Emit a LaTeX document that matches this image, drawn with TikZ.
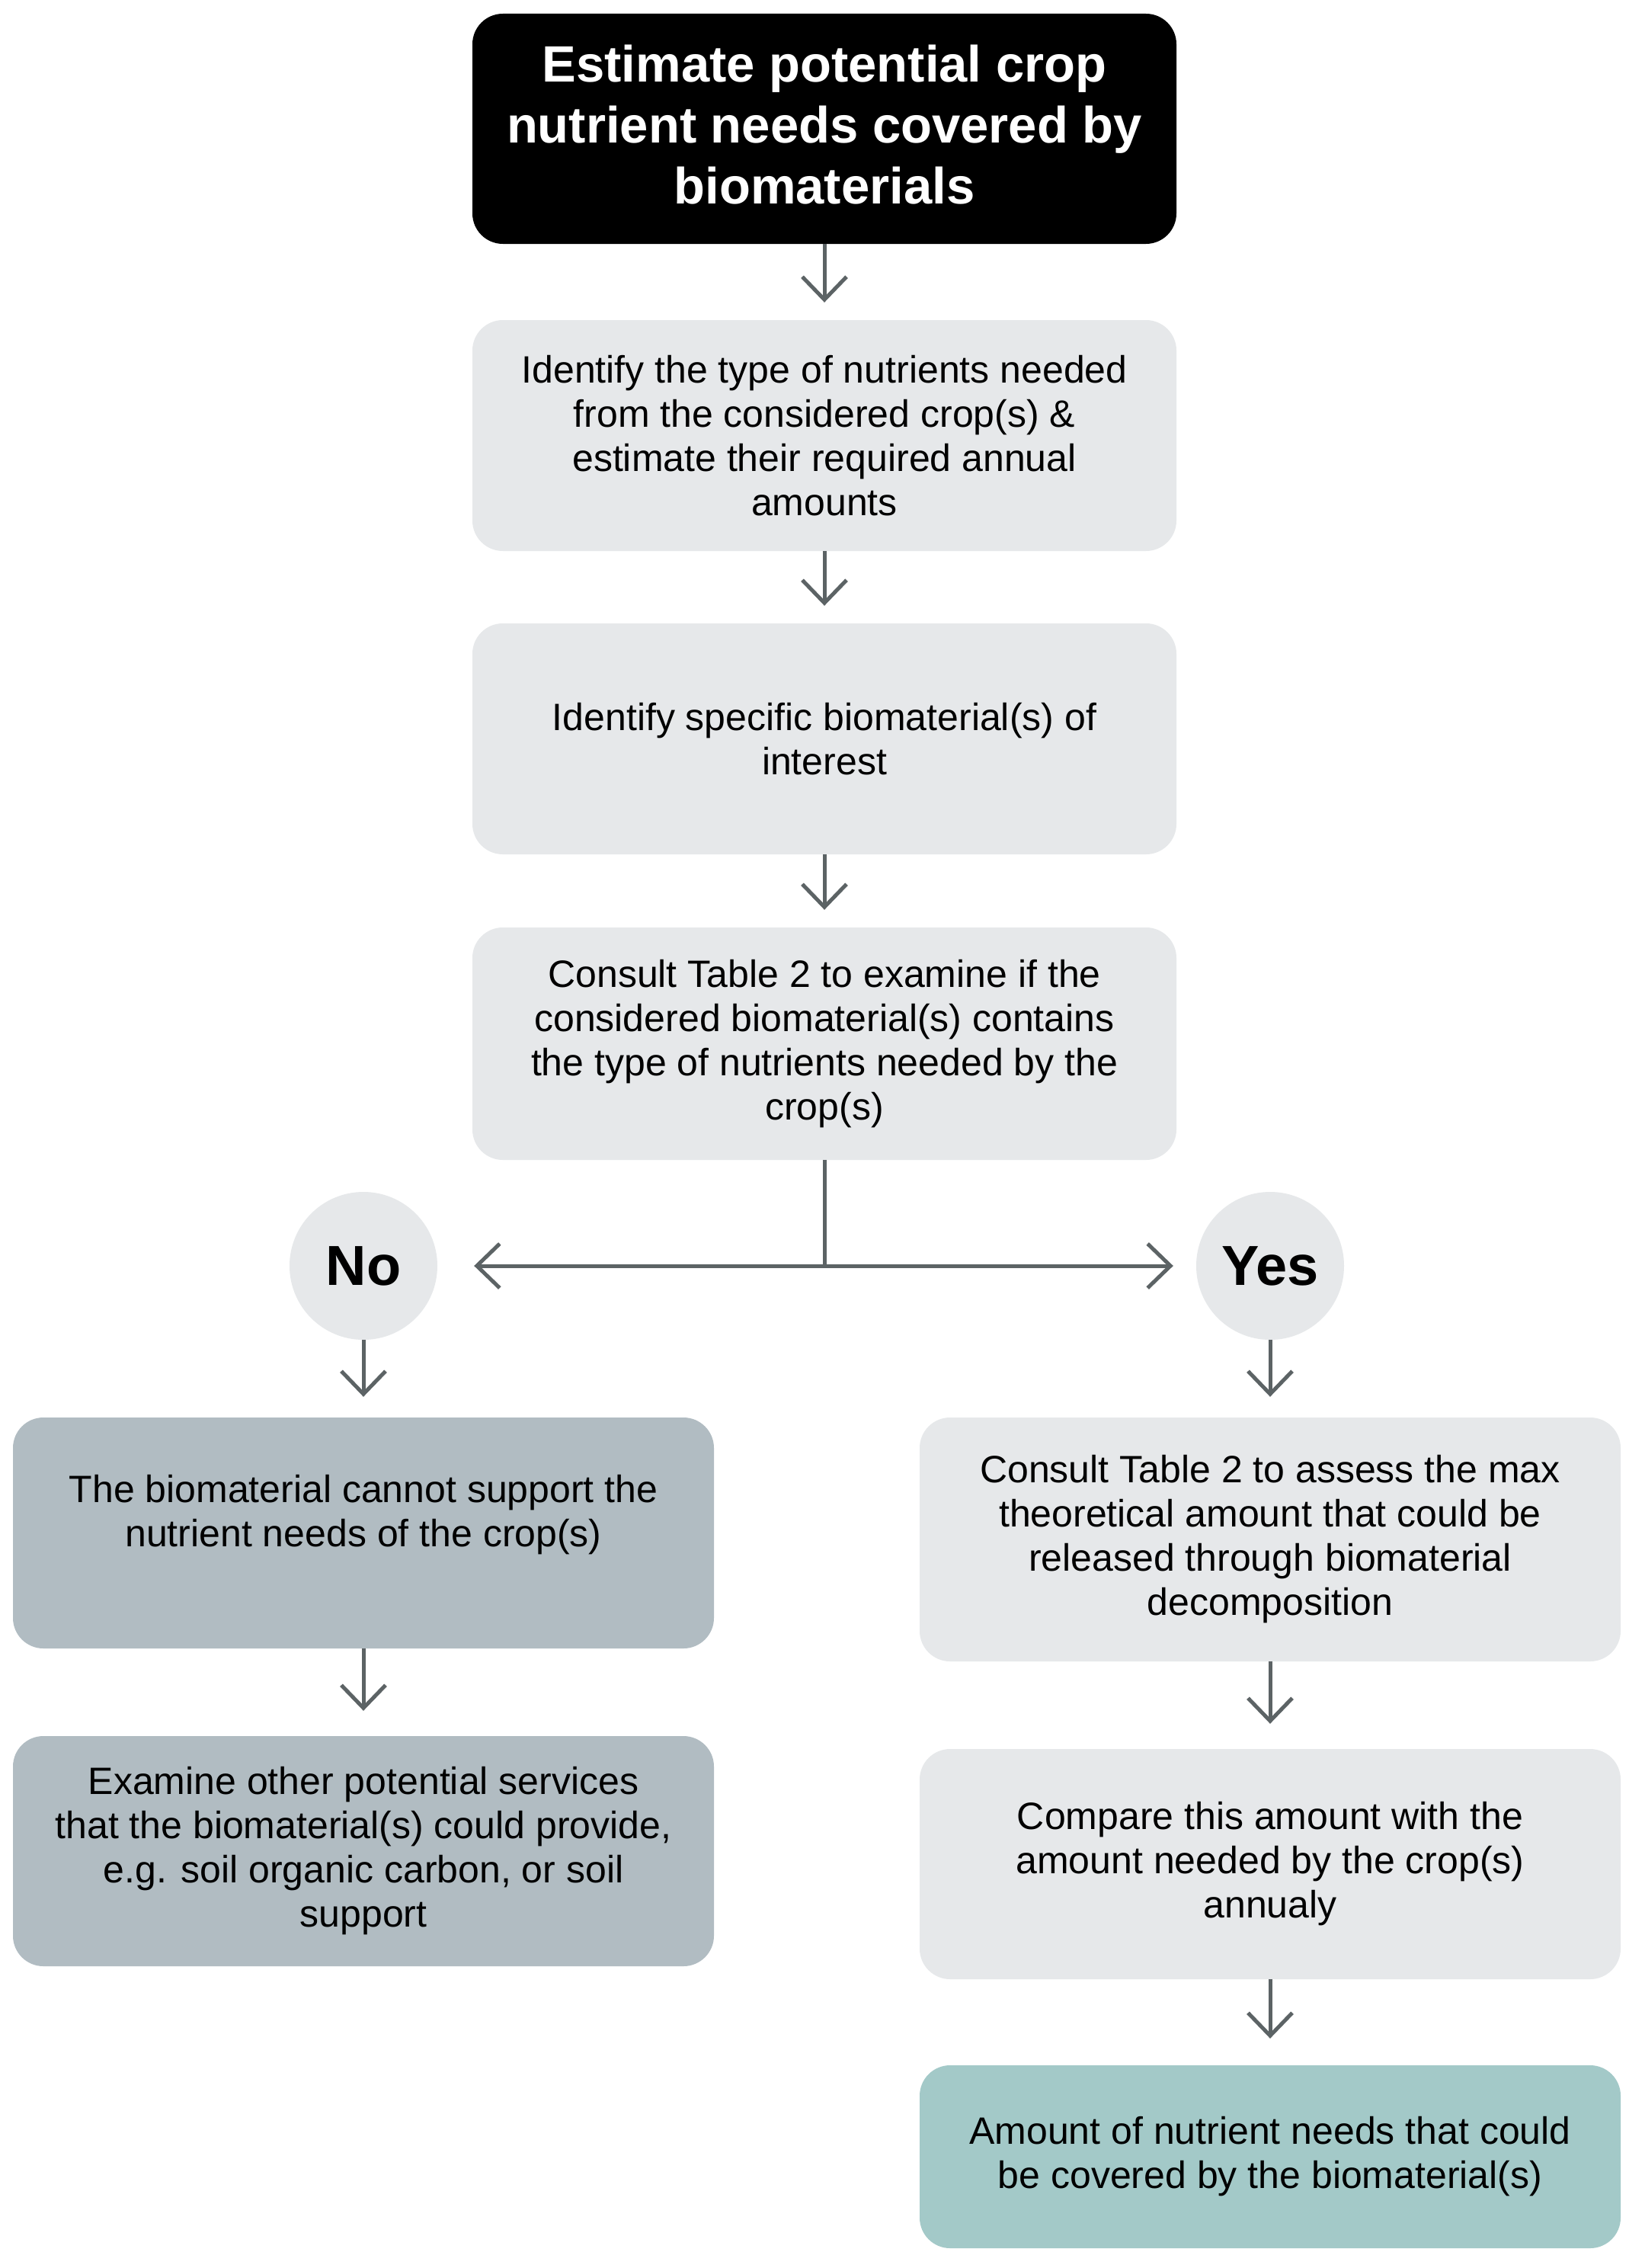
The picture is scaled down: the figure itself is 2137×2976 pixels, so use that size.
\documentclass[tikz,border=0pt]{standalone}
\usepackage{fontspec}
\setmainfont{Liberation Sans}
\usetikzlibrary{arrows.meta}
\definecolor{boxgray}{RGB}{230,232,234}
\definecolor{nogray}{RGB}{177,188,194}
\definecolor{finalbox}{RGB}{163,201,200}
\definecolor{arrowgray}{RGB}{92,99,101}
\begin{document}
\begin{tikzpicture}[x=1pt,y=-1pt,
  box/.style={rectangle, rounded corners=40pt, inner sep=0pt, minimum width=920pt,
    align=center, text=black, font=\fontsize{50}{58}\selectfont},
  lightbox/.style={box, fill=boxgray},
  nobox/.style={box, fill=nogray},
  roundlabel/.style={circle, fill=boxgray, minimum size=194pt, inner sep=0pt,
    font=\fontsize{74}{80}\selectfont\bfseries},
  arr/.style={draw=arrowgray, line width=5pt,
    -{Straight Barb[length=30pt,width=58pt]}, shorten >=23pt},
  link/.style={draw=arrowgray, line width=5pt}]
\fill[white] (0,0) rectangle (2137,2976);
\useasboundingbox (0,0) rectangle (2137,2976);

% central column
\node[box, fill=black, minimum width=924pt, minimum height=302pt] (title) at (1082,169) {};
\node[text=white, align=center, inner sep=0pt,
  font=\fontsize{67}{80}\selectfont\bfseries] (titletext) at (1082,164)
  {Estimate potential crop\\nutrient needs covered by\\biomaterials};
\node[lightbox, minimum width=924pt, minimum height=303pt] (b2) at (1082,571.5)
  {Identify the type of nutrients needed\\from the considered crop(s) \&\\estimate their required annual\\amounts};
\node[lightbox, minimum width=924pt, minimum height=303pt] (b3) at (1082,969.5)
  {Identify specific biomaterial(s) of\\interest};
\node[lightbox, minimum width=924pt, minimum height=305pt] (b4) at (1082,1369.5)
  {Consult Table 2 to examine if the\\considered biomaterial(s) contains\\the type of nutrients needed by the\\crop(s)};

% decision
\node[roundlabel] (no) at (477,1661) {No};
\node[roundlabel] (yes) at (1667,1661) {Yes};
\coordinate (split) at (1082,1661);

% left column
\node[nobox, minimum height=303pt] (n1) at (477,2011.5)
  {The biomaterial cannot support the\\nutrient needs of the crop(s)\\\mbox{}};
\node[nobox, minimum height=302pt] (n2) at (477,2429)
  {Examine other potential services\\that the biomaterial(s) could provide,\\e.g. soil organic carbon, or soil\\support};

% right column
\node[lightbox, minimum height=320pt] (y1) at (1667,2020)
  {Consult Table 2 to assess the max\\theoretical amount that could be\\released through biomaterial\\decomposition};
\node[lightbox, minimum height=302pt] (y2) at (1667,2446)
  {Compare this amount with the\\amount needed by the crop(s)\\annualy};
\node[box, fill=finalbox, minimum height=240pt] (y3) at (1667,2830)
  {Amount of nutrient needs that could\\be covered by the biomaterial(s)};

% connectors
\draw[arr] (title) -- (b2);
\draw[arr] (b2) -- (b3);
\draw[arr] (b3) -- (b4);
\draw[link] (b4.south) -- (split);
\draw[arr, shorten >=48pt] (split) -- (no);
\draw[arr, shorten >=30pt] (split) -- (yes);
\draw[arr, shorten >=27pt] (no) -- (n1);
\draw[arr, shorten >=33pt] (n1) -- (n2);
\draw[arr, shorten >=27pt] (yes) -- (y1);
\draw[arr, shorten >=33pt] (y1) -- (y2);
\draw[arr, shorten >=35pt] (y2) -- (y3);
\end{tikzpicture}
\end{document}
